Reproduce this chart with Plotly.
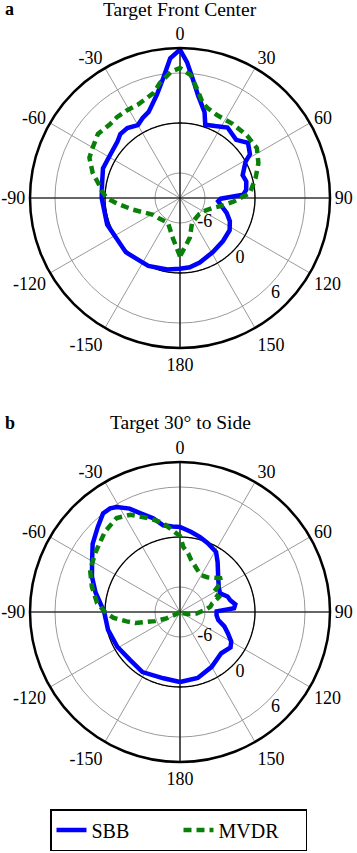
import plotly.graph_objects as go
import numpy as np

# ---------------- data (dB vs angle in degrees) ----------------
theta_sbb_a = [-180, -170, -155, -135, -110, -90, -80, -69, -58, -48, -43, -37, -30, -25, -20,
               -12.6, -8, -4, 0, 3, 7, 10, 16, 19, 26, 34, 44, 51, 58, 61, 70, 76, 83, 87,
               91, 95, 100, 108, 115, 123, 135, 149, 163, 172, 180]
r_sbb_a = [-0.5, -0.3, 0.0, 0.2, 0.3, 0.4, 0.5, 0.9, 0.85, 1.1, 1.5, 1.5, 1.1, 1.6, 2.0,
           3.7, 5.5, 7.8, 8.8, 7.3, 4.9, 3.5, 1.7, 0.3, 0.6, 1.2, 0.7, 1.5, 0.9, 0.0, -1.0, -0.8, -1.0, -1.4,
           -4.1, -4.4, -4.0, -3.1, -2.4, -1.9, -1.7, -1.4, -0.9, -0.6, -0.5]

theta_mvdr_a = [-180, -170, -154, -135, -122, -104, -95, -90, -85, -81, -74, -66, -60, -52, -44,
                -38, -31, -24, -14, -10, -4, 0, 5, 9, 13.6, 17, 24, 35, 47, 57, 66, 75, 86,
                94, 100, 107, 120, 130, 154, 166, 180]
r_mvdr_a = [-2.0, -4.1, -5.7, -5.5, -5.2, -3.2, -1.4, -0.2, 0.4, 0.8, 1.9, 2.9, 3.1, 3.5, 3.2,
            3.3, 3.3, 3.3, 4.0, 5.0, 6.2, 6.6, 5.8, 4.2, 2.7, 2.3, 1.9, 1.9, 2.0, 2.0, 1.3, 0.4, -0.6,
            -2.6, -3.8, -4.9, -5.8, -6.0, -5.7, -4.1, -2.0]

theta_sbb_b = [-180, -166, -148, -134, -119, -104, -90, -86, -77, -68, -59, -52, -44, -38, -34,
               -31, -26, -22, -16, -11, -5, 0, 8, 15, 22, 31, 37, 42, 50, 58, 65, 72, 77, 82, 86,
               89, 95, 102, 108, 114, 120, 125, 135, 150, 165, 180]
r_sbb_b = [-0.6, -0.8, -0.5, -0.7, -0.4, -0.1, 0.1, 0.4, 1.4, 2.4, 3.3, 4.3, 5.2, 6.0, 6.0,
           5.7, 4.8, 3.8, 2.7, 1.6, 1.3, 1.2, 0.7, 0.3, -0.1, -0.6, -1.5, -2.2, -3.0, -3.5, -3.7, -3.0, -2.8, -2.3, -2.5,
           -4.6, -4.6, -4.3, -3.4, -2.7, -1.9, -1.6, -2.0, -1.4, -0.8, -0.6]

theta_mvdr_b = [-180, -150, -135, -120, -115, -110, -104, -100, -95, -90, -84, -74, -65, -55, -43,
                -34, -27, -18, -11, -5, 0, 3, 8, 12, 15, 22, 30, 38, 45, 50, 54, 60, 69, 75, 80,
                86, 90, 95, 105, 120, 135, 150, 180]
r_mvdr_b = [-9, -9, -9, -8.5, -7.2, -5.8, -3.5, -2.5, -1.0, 0.0, 1.0, 2.0, 2.9, 3.4, 4.2,
            4.6, 4.1, 2.8, 1.9, 0.8, 0.1, -1.2, -1.9, -2.6, -2.9, -3.5, -3.9, -3.7, -3.2, -2.7, -2.9, -4.4, -4.0, -5.0, -5.3,
            -6.0, -6.6, -7.0, -8.0, -8.8, -9, -9, -9]

angle_ticks = [0, 30, 60, 90, 120, 150, 180, 210, 240, 270, 300, 330]
angle_labels = ["0", "30", "60", "90", "120", "150", "180", "-150", "-120", "-90", "-60", "-30"]
radial_ticks = [-6, 0, 6]
radial_labels = ["-6", "0", "6"]
radial_range = [-9, 9]
radial_label_theta = 135
radial_label_shift = 1.2

panel_titles = ["Target Front Center", "Target 30° to Side"]
panel_letters = ["a", "b"]

BLUE = "#0000ff"
GREEN = "#0a800a"
GRID = "#9a9a9a"
FONT = "Liberation Serif"

W, H = 357, 853

fig = go.Figure()

def py(px):
    return 1 - px / H

panels = [
    dict(sub="polar", sbb=(theta_sbb_a, r_sbb_a), mvdr=(theta_mvdr_a, r_mvdr_a), legend=True),
    dict(sub="polar2", sbb=(theta_sbb_b, r_sbb_b), mvdr=(theta_mvdr_b, r_mvdr_b), legend=False),
]

circle_theta = list(np.linspace(0, 360, 361))

for p in panels:
    sp = p["sub"]
    fig.add_trace(go.Scatterpolar(r=[0] * len(circle_theta), theta=circle_theta, mode="lines",
                                  line=dict(color="black", width=1.3), subplot=sp,
                                  showlegend=False, hoverinfo="skip"))
    fig.add_trace(go.Scatterpolar(r=[radial_range[1], radial_range[0], radial_range[1]], theta=[0, 0, 180],
                                  mode="lines", line=dict(color="black", width=1.2), subplot=sp,
                                  showlegend=False, hoverinfo="skip"))
    fig.add_trace(go.Scatterpolar(r=[radial_range[1], radial_range[0], radial_range[1]], theta=[90, 90, 270],
                                  mode="lines", line=dict(color="black", width=1.2), subplot=sp,
                                  showlegend=False, hoverinfo="skip"))
    fig.add_trace(go.Scatterpolar(r=[v + radial_label_shift for v in radial_ticks],
                                  theta=[radial_label_theta] * len(radial_ticks), mode="text",
                                  text=radial_labels, textposition="middle center",
                                  textfont=dict(family=FONT, size=18, color="black"), subplot=sp,
                                  showlegend=False, hoverinfo="skip"))
    t, r = p["sbb"]
    fig.add_trace(go.Scatterpolar(r=r, theta=t, mode="lines", name="SBB",
                                  line=dict(color=BLUE, width=4.5), subplot=sp,
                                  showlegend=p["legend"], legendrank=1))
    t, r = p["mvdr"]
    fig.add_trace(go.Scatterpolar(r=r, theta=t, mode="lines", name="MVDR",
                                  line=dict(color=GREEN, width=4.5, dash="8px,5px"), subplot=sp,
                                  showlegend=p["legend"], legendrank=2))

def polar_layout(top):
    return dict(
        domain=dict(x=[30 / W, 330 / W], y=[py(top + 300), py(top)]),
        bgcolor="white",
        angularaxis=dict(direction="clockwise", rotation=90, tickvals=angle_ticks, ticktext=angle_labels,
                         showgrid=True, gridcolor=GRID, gridwidth=0.8, showline=True, linecolor="black",
                         linewidth=2.5, ticks="", tickfont=dict(family=FONT, size=18, color="black")),
        radialaxis=dict(range=radial_range, tickvals=radial_ticks, showticklabels=False,
                        showgrid=True, gridcolor=GRID, gridwidth=0.8, showline=False, ticks=""),
    )

annotations = []
for title, letter, ty in zip(panel_titles, panel_letters, [9, 423]):
    annotations.append(dict(text=title, x=180 / W, y=py(ty), xref="paper", yref="paper", showarrow=False,
                            xanchor="center", yanchor="middle", font=dict(family=FONT, size=19.5, color="black")))
    annotations.append(dict(text="<b>" + letter + "</b>", x=3 / W, y=py(ty), xref="paper", yref="paper",
                            showarrow=False, xanchor="left", yanchor="middle",
                            font=dict(family=FONT, size=18, color="black")))

fig.update_layout(
    width=W, height=H,
    margin=dict(l=0, r=0, t=0, b=0),
    paper_bgcolor="white",
    polar=polar_layout(48),
    polar2=polar_layout(462),
    annotations=annotations,
    showlegend=True,
    legend=dict(orientation="h", x=0.5, xanchor="center", y=py(851), yanchor="bottom",
                bordercolor="black", borderwidth=1.5, bgcolor="white",
                font=dict(family=FONT, size=20, color="black"), entrywidth=82, itemwidth=30),
    font=dict(family=FONT),
)

fig.write_html("out.html", config={"displayModeBar": False})

# remove the default page margin so the figure sits at the window's top-left corner
with open("out.html", "r", encoding="utf-8") as f:
    html = f.read()
html = html.replace("<head>", "<head><style>html,body{margin:0;padding:0;overflow:hidden;}</style>", 1)
with open("out.html", "w", encoding="utf-8") as f:
    f.write(html)
